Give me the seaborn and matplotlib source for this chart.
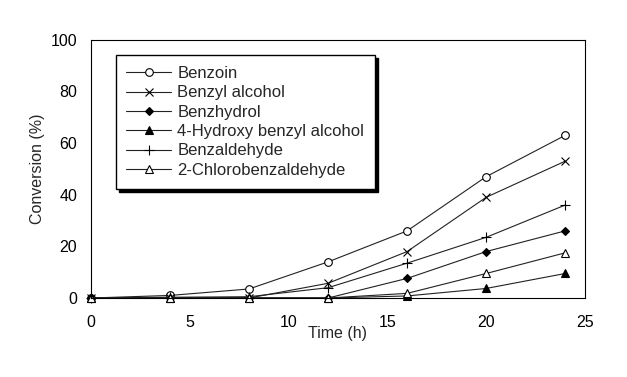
import numpy as np
import pandas as pd
import seaborn as sns
import matplotlib.pyplot as plt

time_h = [0, 4, 8, 12, 16, 20, 24]
benzoin = [0, 1, 3.5, 14, 26, 47, 63]
benzyl_alcohol = [0, 0, 0, 5.7, 18, 39, 53]
benzhydrol = [0, 0, 0, 0, 7.6, 18, 26]
hydroxy_benzyl = [0, 0, 0, 0, 0.8, 3.7, 9.5]
benzaldehyde = [0, 0.3, 0.5, 4, 13.5, 23.5, 36]
chlorobenzaldehyde = [0, 0, 0, 0, 1.8, 9.5, 17.5]

series = [
    ("Benzoin", benzoin, "o", "white"),
    ("Benzyl alcohol", benzyl_alcohol, "x", "black"),
    ("Benzhydrol", benzhydrol, "D", "black"),
    ("4-Hydroxy benzyl alcohol", hydroxy_benzyl, "^", "black"),
    ("Benzaldehyde", benzaldehyde, "+", "black"),
    ("2-Chlorobenzaldehyde", chlorobenzaldehyde, "^", "white"),
]

sns.set_style("white")
plt.rcParams["font.family"] = ["Liberation Sans", "DejaVu Sans"]

fig = plt.figure(figsize=(6.27, 3.77), dpi=100)
ax = fig.add_axes([0.145, 0.2095, 0.788, 0.685])

sizes = {"o": 5.5, "x": 6, "D": 4.5, "^": 5.5, "+": 7}
for name, vals, mk, fc in series:
    df = pd.DataFrame({"t": time_h, "c": vals})
    sns.lineplot(data=df, x="t", y="c", ax=ax, label=name, color="#222222",
                 linewidth=0.8, marker=mk, markersize=sizes[mk],
                 markerfacecolor=fc, markeredgecolor="black",
                 markeredgewidth=0.8, clip_on=False)

ax.set_xlim(0, 25)
ax.set_ylim(0, 100)
ax.set_xticks([0, 5, 10, 15, 20, 25])
ax.set_yticks([0, 20, 40, 60, 80, 100])
ax.tick_params(axis="both", direction="in", length=5, width=0.8,
               labelsize=11.5, colors="black", pad=12)
ax.tick_params(axis="y", pad=10)
for s in ax.spines.values():
    s.set_color("black")
    s.set_linewidth(0.8)

ax.set_xlabel("Time (h)", fontsize=11.5, labelpad=-3)
ax.set_ylabel("Conversion (%)", fontsize=11.5, labelpad=4)

leg = ax.legend(loc="upper left", bbox_to_anchor=(0.05, 0.94), fontsize=12,
                frameon=True, fancybox=False, edgecolor="black",
                shadow={"color": "black", "alpha": 1, "ox": 2.2, "oy": -2.2},
                handlelength=2.7, labelspacing=0.26, borderpad=0.65,
                handletextpad=0.35, borderaxespad=0)
leg.get_frame().set_linewidth(1.0)
leg.get_frame().set_alpha(1)

fig.savefig("out.png", dpi=100)
